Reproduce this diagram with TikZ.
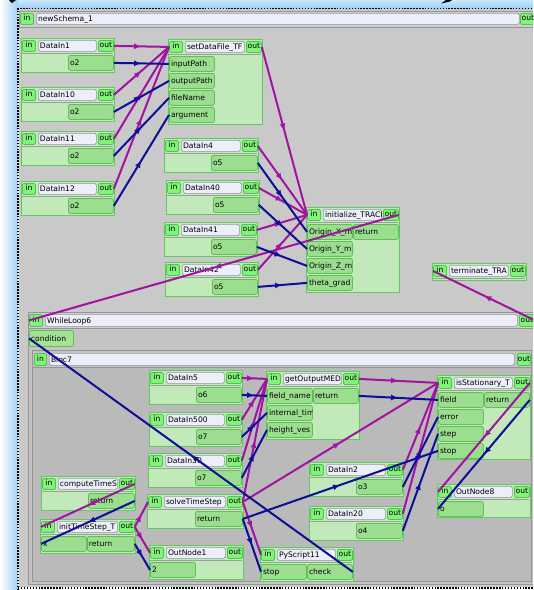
\documentclass[tikz,border=0pt]{standalone}
\usepackage{fontspec}
\setmainfont{DejaVu Sans}
\usetikzlibrary{arrows.meta,decorations.markings}
\definecolor{canvas}{RGB}{201,201,201}
\definecolor{loopbg}{RGB}{196,196,196}
\definecolor{blocbg}{RGB}{186,186,186}
\definecolor{hdrbg}{RGB}{206,206,206}
\definecolor{cedge}{RGB}{150,150,150}
\definecolor{compbg}{RGB}{194,233,186}
\definecolor{compedge}{RGB}{98,200,98}
\definecolor{portbg}{RGB}{156,222,144}
\definecolor{portedge}{RGB}{96,192,86}
\definecolor{condbg}{RGB}{164,226,152}
\definecolor{iobg}{RGB}{130,242,122}
\definecolor{ioedge}{RGB}{80,196,80}
\definecolor{fieldbg}{RGB}{236,238,250}
\definecolor{fieldedge}{RGB}{150,150,162}
\definecolor{ctrlc}{RGB}{160,20,160}
\definecolor{datc}{RGB}{14,14,150}
\definecolor{edgeblue}{RGB}{158,208,246}
\definecolor{topblue}{RGB}{200,232,252}
\newcommand\io[6]{\node[iobox, anchor=north west, minimum width=(#4)*0.75pt, minimum height=(#5)*0.75pt] (#1) at (#2,#3) {#6};}
\newcommand\tb[7]{\node[#1, anchor=north west, minimum width=(#5)*0.75pt, minimum height=(#6)*0.75pt, inner sep=0pt] (#2) at (#3,#4) {};
  \begin{scope}\clip (#2.south west) rectangle (#2.north east);
  \node[anchor=base west, inner sep=0pt] (#2-t) at ([xshift=1.3pt, yshift=-2pt]#2.west) {#7};\end{scope}}
\newcommand\prt[5]{\tb{portbox}{#1}{#2}{#3}{#4}{15}{#5}}
\newcommand\comp[6]{%
  \node[compbox, anchor=north west, minimum width=(#4)*0.75pt, minimum height=(#5)*0.75pt] (#1) at (#2,#3) {};
  \draw[sepline] (#2+0.8,#3+15.5) -- (#2+#4-0.8,#3+15.5);
  \io{#1-in}{#2+1}{#3+2}{13}{11}{in}
  \tb{field}{#1-name}{#2+17}{#3+2}{#4-35}{11}{#6}
  \io{#1-out}{#2+#4-16}{#3+2}{15}{11}{out}}
\newcommand\datain[6]{\comp{#1}{#2}{#3}{#4}{34}{#5}\prt{#1-o}{#2+47}{#3+17}{#4-48}{#6}}
\begin{document}
\begin{tikzpicture}[x=0.75pt,y=-0.75pt,
  font=\fontsize{5.7}{6.8}\selectfont,
  compbox/.style={fill=compbg, draw=compedge, line width=0.75pt, inner sep=0pt},
  sepline/.style={draw=black!38, line width=0.8pt},
  iobox/.style={fill=iobg, draw=ioedge, line width=0.6pt, rounded corners=1pt, inner sep=0pt, text height=4.2pt, text depth=1.2pt},
  field/.style={fill=fieldbg, draw=fieldedge, line width=0.5pt, rounded corners=1.2pt},
  portbox/.style={fill=portbg, draw=portedge, line width=0.6pt, rounded corners=1.5pt},
  condbox/.style={fill=condbg, draw=portedge, line width=0.6pt, rounded corners=1.5pt},
  cont/.style={draw=cedge, line width=0.75pt},
  dotline/.style={draw=black, line width=1.1pt, dash pattern=on 1.1pt off 1.1pt},
  linkln/.style={line width=1.5pt, postaction={decorate, decoration={markings, mark=at position 0.5 with {\arrow{Latex[length=5.5pt,width=4.5pt]}}}}},
  ctrlln/.style={linkln, color=ctrlc},
  dataln/.style={linkln, color=datc}]
\useasboundingbox (0,0) rectangle (533,590);
\clip (0,0) rectangle (533,590);
\fill[white] (0,0) rectangle (533,590);
\shade[left color=white, right color=edgeblue] (0,0) rectangle (18,590);
\shade[top color=topblue, bottom color=edgeblue] (18,0) rectangle (533,8);
\fill[black] (9,0) -- (16,0) -- (12,3) -- cycle;
\fill[black] (441,3.5) -- (446,0) -- (452,0) -- (450,1.5) -- cycle;
\fill[canvas] (19,9) rectangle (533,587);
\draw[dotline] (18,590) -- (18,8.5) -- (533,8.5);
\draw[dotline] (18,588) -- (533,588);
% schema header
\draw[cont, fill=hdrbg] (19,11) rectangle (540,27);
\io{NS-in}{20}{13}{13}{11}{in}
\tb{field}{NS-name}{36}{13}{483}{11}{newSchema\_1}
\io{NS-out}{520}{13}{15}{11}{out}
% top level components
\datain{D1}{21}{38}{93}{DataIn1}{o2}
\datain{D10}{21}{87}{93}{DataIn10}{o2}
\datain{D11}{21}{131}{93}{DataIn11}{o2}
\datain{D12}{21}{181}{93}{DataIn12}{o2}
\comp{SD}{168}{39}{94}{85}{setDataFile\_TF}
\prt{SD-p1}{169}{56}{45}{inputPath}
\prt{SD-p2}{169}{73}{45}{outputPath}
\prt{SD-p3}{169}{90}{45}{fileName}
\prt{SD-p4}{169}{107}{45}{argument}
\datain{D4}{164}{138}{94}{DataIn4}{o5}
\datain{D40}{166}{180}{93}{DataIn40}{o5}
\datain{D41}{164}{222}{93}{DataIn41}{o5}
\datain{D42}{165}{262}{93}{DataIn42}{o5}
\comp{IT}{306}{207}{93}{85}{initialize\_TRACI}
\prt{IT-p1}{307}{224}{45}{Origin\_X\_m}
\prt{IT-p2}{307}{241}{45}{Origin\_Y\_m}
\prt{IT-p3}{307}{258}{45}{Origin\_Z\_m}
\prt{IT-p4}{307}{275}{45}{theta\_grad}
\prt{IT-ret}{353}{224}{45}{return}
\comp{TR}{432}{263}{94}{17}{terminate\_TRA}
% while loop
\draw[cont, fill=loopbg] (28,312) rectangle (545,584);
\draw[cont, fill=hdrbg] (28,312) rectangle (545,328);
\io{WL-in}{29}{314}{13}{12}{in}
\tb{field}{WL-name}{45}{314}{472}{12}{WhileLoop6}
\io{WL-out}{519}{314}{15}{12}{out}
\tb{condbox}{WL-cond}{29}{330}{44}{16}{condition}
% bloc
\draw[cont, fill=blocbg] (32,350) rectangle (531,581);
\draw[cont, fill=loopbg] (32,350) rectangle (531,367);
\io{BL-in}{34}{353}{12}{12}{in}
\tb{field}{BL-name}{49}{353}{465}{12}{Bloc7}
\io{BL-out}{517}{353}{13}{12}{out}
% components inside bloc
\datain{D5}{149}{370}{93}{DataIn5}{o6}
\datain{D500}{149}{412}{93}{DataIn500}{o7}
\datain{D30}{148}{453}{94}{DataIn30}{o7}
\comp{GO}{266}{371}{93}{68}{getOutputMED}
\prt{GO-p1}{267}{388}{45}{field\_name}
\prt{GO-p2}{267}{405}{45}{internal\_tim}
\prt{GO-p3}{267}{422}{45}{height\_ves}
\prt{GO-ret}{313}{388}{45}{return}
\comp{IS}{437}{375}{93}{84}{isStationary\_T}
\prt{IS-p1}{438}{392}{45}{field}
\prt{IS-p2}{438}{409}{45}{error}
\prt{IS-p3}{438}{426}{45}{step}
\prt{IS-p4}{438}{443}{45}{stop}
\prt{IS-ret}{484}{392}{45}{return}
\datain{D2}{309}{462}{94}{DataIn2}{o3}
\datain{D20}{309}{506}{94}{DataIn20}{o4}
\comp{ON8}{437}{484}{93}{33}{OutNode8}
\prt{ON8-p}{438}{501}{45}{o}
\comp{CT}{41}{476}{94}{34}{computeTimeS}
\prt{CT-ret}{88}{493}{46}{return}
\comp{ITS}{40}{519}{95}{34}{initTimeStep\_T}
\prt{ITS-p}{41}{536}{45}{x}
\prt{ITS-ret}{87}{536}{47}{return}
\comp{ST}{147}{494}{96}{34}{solveTimeStep}
\prt{ST-ret}{195}{511}{47}{return}
\comp{ON1}{149}{545}{94}{34}{OutNode1}
\prt{ON1-p}{150}{562}{45}{2}
\comp{PY}{260}{547}{93}{34}{PyScript11}
\prt{PY-stop}{261}{564}{45}{stop}
\prt{PY-check}{307}{564}{45}{check}
% control links
\draw[ctrlln] (D1-out.east) -- (SD-in.west);
\draw[ctrlln] (D10-out.east) -- (SD-in.west);
\draw[ctrlln] (D11-out.east) -- (SD-in.west);
\draw[ctrlln] (D12-out.east) -- (SD-in.west);
\draw[ctrlln] (SD-out.east) -- (IT-in.west);
\draw[ctrlln] (D4-out.east) -- (IT-in.west);
\draw[ctrlln] (D40-out.east) -- (IT-in.west);
\draw[ctrlln] (D41-out.east) -- (IT-in.west);
\draw[ctrlln] (D42-out.east) -- (IT-in.west);
\draw[ctrlln] (IT-out.east) -- (WL-in.west);
\draw[ctrlln] (WL-out.east) -- (TR-in.west);
\draw[ctrlln] (D5-out.east) -- (GO-in.west);
\draw[ctrlln] (D500-out.east) -- (GO-in.west);
\draw[ctrlln] (D30-out.east) -- (GO-in.west);
\draw[ctrlln] (ST-out.east) -- (GO-in.west);
\draw[ctrlln] (ST-out.east) -- (IS-in.west);
\draw[ctrlln] (ST-out.east) -- (PY-in.west);
\draw[ctrlln] (GO-out.east) -- (IS-in.west);
\draw[ctrlln] (D2-out.east) -- (IS-in.west);
\draw[ctrlln] (D20-out.east) -- (IS-in.west);
\draw[ctrlln] (IS-out.east) -- (ON8-in.west);
\draw[ctrlln] (CT-out.east) -- (ITS-in.west);
\draw[ctrlln] (ITS-out.east) -- (ST-in.west);
\draw[ctrlln] (ITS-out.east) -- (ON1-in.west);
% data links
\draw[dataln] (D1-o.east) -- (SD-p1.west);
\draw[dataln] (D10-o.east) -- (SD-p2.west);
\draw[dataln] (D11-o.east) -- (SD-p3.west);
\draw[dataln] (D12-o.east) -- (SD-p4.west);
\draw[dataln] (D4-o.east) -- (IT-p1.west);
\draw[dataln] (D40-o.east) -- (IT-p2.west);
\draw[dataln] (D41-o.east) -- (IT-p3.west);
\draw[dataln] (D42-o.east) -- (IT-p4.west);
\draw[dataln] (PY-check.east) -- (WL-cond.west);
\draw[dataln] (D5-o.east) -- (GO-p1.west);
\draw[dataln] (D500-o.east) -- (GO-p2.west);
\draw[dataln] (D30-o.east) -- (GO-p3.west);
\draw[dataln] (GO-ret.east) -- (IS-p1.west);
\draw[dataln] (D2-o.east) -- (IS-p2.west);
\draw[dataln] (D20-o.east) -- (IS-p3.west);
\draw[dataln] (ST-ret.east) -- (IS-p4.west);
\draw[dataln] (ST-ret.east) -- (PY-stop.west);
\draw[dataln] (IS-ret.east) -- (ON8-p.west);
\draw[dataln] (CT-ret.east) -- (ITS-p.west);
\draw[dataln] (ITS-ret.east) -- (ON1-p.west);
\end{tikzpicture}
\end{document}
